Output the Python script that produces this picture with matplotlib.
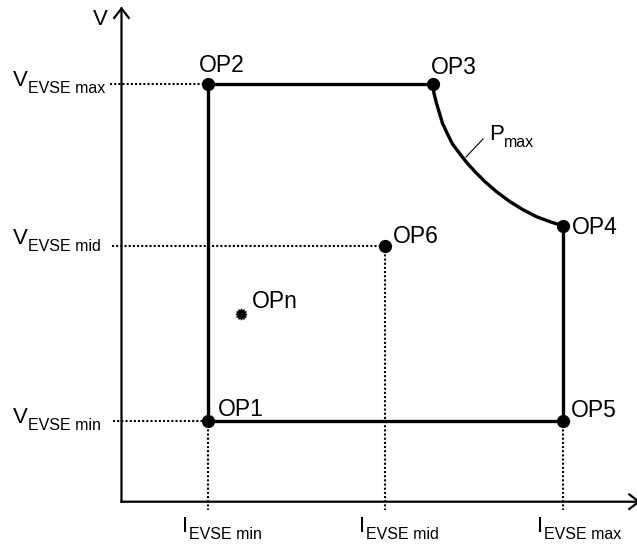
import matplotlib.pyplot as plt
from matplotlib.patches import FancyArrowPatch

plt.rcParams['font.family'] = ['Liberation Sans', 'DejaVu Sans']

# axis levels (schematic units, origin at the axis corner)
I_min, I_mid, I_max = 86, 263, 441
V_min, V_mid, V_max = 81, 256, 418

# operating points
op_names = ['OP1', 'OP2', 'OP3', 'OP4', 'OP5', 'OP6', 'OPn']
op_x = [I_min, I_min, 311, I_max, I_max, I_mid, 119]
op_y = [V_min, V_max, V_max, 276, V_min, V_mid, 188]

# Pmax curve (OP3 -> OP4)
pmax_x = [311, 312.5, 315, 318, 321, 326, 331, 338, 345, 353.5, 363.5, 375, 388.5, 402, 415, 428.5, 441]
pmax_y = [418, 408.4, 398.4, 388.4, 378.4, 367.7, 357.7, 348.4, 339.4, 330, 320, 310, 300, 291.7, 285, 280, 276]

v_labels = ['max', 'mid', 'min']
v_levels = [V_max, V_mid, V_min]
i_labels = ['min', 'mid', 'max']
i_levels = [I_min, I_mid, I_max]

FS = 16
FS_SUB = 11.5


def sub_label(x, y, main, sub, **kw):
    # main letter with a smaller subscript placed right after it
    t = ax.text(x, y, main, fontsize=FS, ha='left', va='baseline', **kw)
    ax.annotate(sub, xy=(1, 0), xycoords=t, xytext=(0.3, -1.5),
                textcoords='offset points', fontsize=FS_SUB, ha='left', va='baseline', **kw)
    return t


fig = plt.figure(figsize=(6.37, 5.45), dpi=100)
ax = fig.add_axes([0, 0, 1, 1])
ax.set_xlim(-121.5, 515.5)
ax.set_ylim(-43.3, 501.7)
ax.axis('off')

# axes with open arrow heads
for tip in [(0, 495), (519, 0)]:
    ax.add_patch(FancyArrowPatch((0, 0), tip, arrowstyle='->,head_length=0.45,head_width=0.35',
                                 mutation_scale=15, lw=1.6, color='black',
                                 shrinkA=0, shrinkB=0, joinstyle='miter', capstyle='projecting'))
ax.text(-28.5, 477, 'V', fontsize=FS, ha='left', va='baseline')
ax.text(514.5, -24, 'I', fontsize=FS, ha='left', va='baseline', color='0.55')

dot = (0, (1, 1))
# dotted guides to the axes
v_start = [-11.5, -9.5, -8.5]
v_base = [-2, 2, -2]
for lab, lev, xs, dy in zip(v_labels, v_levels, v_start, v_base):
    end = I_mid if lab == 'mid' else I_min
    ax.plot([xs, end], [lev, lev], color='black', lw=1.5, ls=dot)
    sub_label(-108.5, lev + dy, 'V', 'EVSE ' + lab)

for lab, lev in zip(i_labels, i_levels):
    top = V_mid if lab == 'mid' else V_min
    ax.plot([lev, lev], [top, -8.3], color='black', lw=1.5, ls=dot)
    sub_label(lev - 25.5, -30.3, 'I', 'EVSE ' + lab)

# operating envelope
env_x = [op_x[3], op_x[4], op_x[0], op_x[1], op_x[2]]
env_y = [op_y[3], op_y[4], op_y[0], op_y[1], op_y[2]]
ax.plot(env_x, env_y, color='black', lw=2.4, solid_joinstyle='miter')
ax.plot(pmax_x, pmax_y, color='black', lw=2.4, solid_joinstyle='round')

# Pmax label with pointer
ax.plot([344.5, 361.5], [344.7, 362.7], color='black', lw=0.8)
sub_label(367.5, 361.7, 'P', 'max')

# points
ax.plot(op_x[:6], op_y[:6], 'o', color='black', ms=8.5, zorder=5)
ax.plot(op_x[6], op_y[6], marker=(12, 1, 0), color='black', ms=8, zorder=5)

lab_dx = [10, -8.5, -2, 9, 8.5, 8, 11]
lab_dy = [5, 12, 10, -8, 3.5, 3, 6]
for name, x, y, dx, dy in zip(op_names, op_x, op_y, lab_dx, lab_dy):
    ax.text(x + dx, y + dy, name, fontsize=16.5, ha='left', va='baseline')

fig.savefig('out.png', dpi=100)
